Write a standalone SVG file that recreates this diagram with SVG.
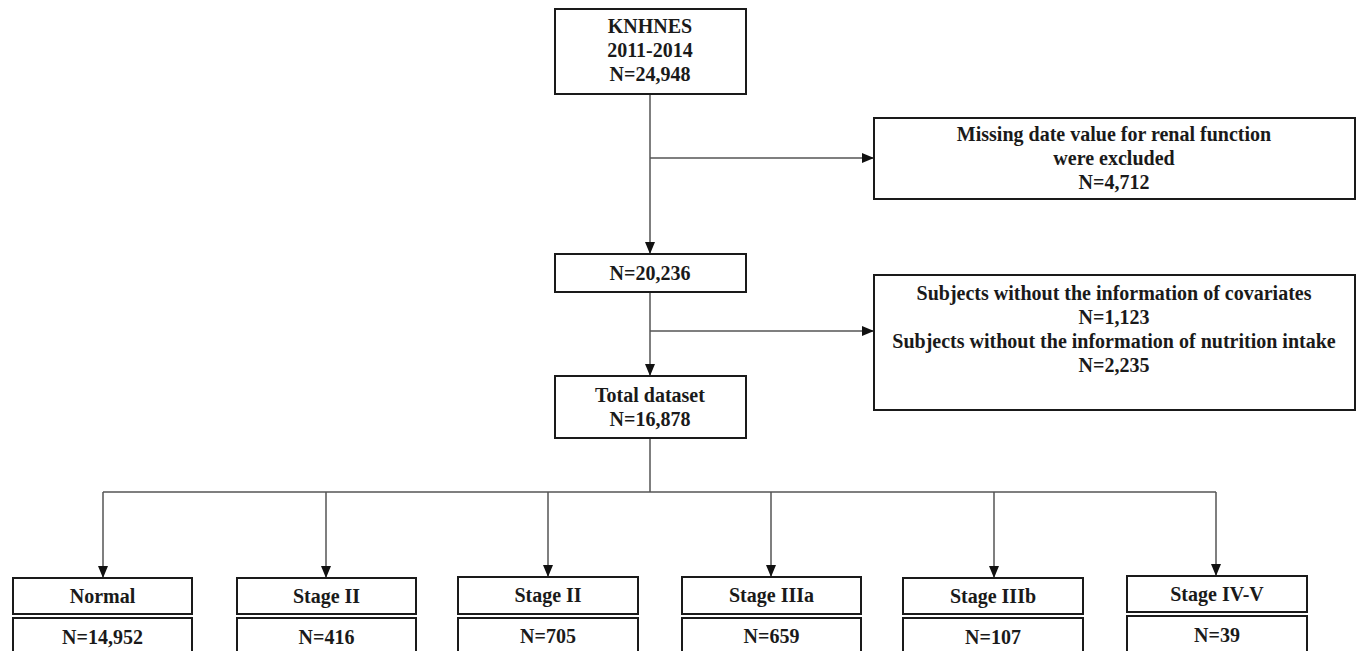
<svg xmlns="http://www.w3.org/2000/svg" width="1357" height="651" viewBox="0 0 1357 651">
<style>
.box{fill:#fff;stroke:#1a1a1a;stroke-width:2}
.t{font-family:"Liberation Serif","Times New Roman",serif;font-weight:bold;font-size:20px;fill:#1a1a1a;text-anchor:middle}
.c{fill:none;stroke:#555;stroke-width:1.5}
</style>
<defs>
<marker id="ah" markerWidth="12" markerHeight="10" refX="11" refY="5" orient="auto" markerUnits="userSpaceOnUse">
<path d="M0,0 L12,5 L0,10 Z" fill="#111"/>
</marker>
</defs>
<rect width="1357" height="651" fill="#fff"/>
<g id="connectors">
<line class="c" x1="650" y1="94" x2="650" y2="253" marker-end="url(#ah)"/>
<line class="c" x1="650" y1="158" x2="873" y2="158" marker-end="url(#ah)"/>
<line class="c" x1="650" y1="292" x2="650" y2="375" marker-end="url(#ah)"/>
<line class="c" x1="650" y1="331" x2="873" y2="331" marker-end="url(#ah)"/>
<line class="c" x1="650" y1="438" x2="650" y2="492"/>
<line class="c" x1="103" y1="492" x2="1216" y2="492"/>
<line class="c" x1="103" y1="492" x2="103" y2="577" marker-end="url(#ah)"/>
<line class="c" x1="326" y1="492" x2="326" y2="577" marker-end="url(#ah)"/>
<line class="c" x1="548" y1="492" x2="548" y2="576" marker-end="url(#ah)"/>
<line class="c" x1="771" y1="492" x2="771" y2="576" marker-end="url(#ah)"/>
<line class="c" x1="994" y1="492" x2="994" y2="577" marker-end="url(#ah)"/>
<line class="c" x1="1216" y1="492" x2="1216" y2="575" marker-end="url(#ah)"/>
</g>
<g id="knhnes">
<rect class="box" x="555" y="9" width="191" height="85"/>
<text class="t" x="650" y="33">KNHNES</text>
<text class="t" x="650" y="57">2011-2014</text>
<text class="t" x="650" y="81">N=24,948</text>
</g>
<g id="excl1">
<rect class="box" x="874" y="118" width="481" height="81"/>
<text class="t" x="1114" y="141">Missing date value for renal function</text>
<text class="t" x="1114" y="165">were excluded</text>
<text class="t" x="1114" y="189">N=4,712</text>
</g>
<g id="n20236">
<rect class="box" x="555" y="254" width="191" height="38"/>
<text class="t" x="650" y="280">N=20,236</text>
</g>
<g id="excl2">
<rect class="box" x="874" y="275" width="481" height="135"/>
<text class="t" x="1114" y="300">Subjects without the information of covariates</text>
<text class="t" x="1114" y="324">N=1,123</text>
<text class="t" x="1114" y="348">Subjects without the information of nutrition intake</text>
<text class="t" x="1114" y="372">N=2,235</text>
</g>
<g id="total">
<rect class="box" x="555" y="376" width="191" height="62"/>
<text class="t" x="650" y="402">Total dataset</text>
<text class="t" x="650" y="426">N=16,878</text>
</g>
<g id="normal">
<rect class="box" x="13" y="578" width="179" height="36"/>
<text class="t" x="102.5" y="603">Normal</text>
<rect class="box" x="13" y="618" width="179" height="50"/>
<text class="t" x="102.5" y="644">N=14,952</text>
</g>
<g id="stage2a">
<rect class="box" x="237" y="578" width="179" height="36"/>
<text class="t" x="326.5" y="603">Stage II</text>
<rect class="box" x="237" y="618" width="179" height="50"/>
<text class="t" x="326.5" y="644">N=416</text>
</g>
<g id="stage2b">
<rect class="box" x="458" y="577" width="180" height="37"/>
<text class="t" x="548" y="602">Stage II</text>
<rect class="box" x="458" y="618" width="180" height="50"/>
<text class="t" x="548" y="643">N=705</text>
</g>
<g id="stage3a">
<rect class="box" x="682" y="577" width="179" height="37"/>
<text class="t" x="771.5" y="602">Stage IIIa</text>
<rect class="box" x="682" y="618" width="179" height="50"/>
<text class="t" x="771.5" y="643">N=659</text>
</g>
<g id="stage3b">
<rect class="box" x="903" y="578" width="180" height="36"/>
<text class="t" x="993" y="603">Stage IIIb</text>
<rect class="box" x="903" y="618" width="180" height="50"/>
<text class="t" x="993" y="644">N=107</text>
</g>
<g id="stage45">
<rect class="box" x="1127" y="576" width="180" height="36"/>
<text class="t" x="1217" y="601">Stage IV-V</text>
<rect class="box" x="1127" y="616" width="180" height="50"/>
<text class="t" x="1217" y="642">N=39</text>
</g>
</svg>
